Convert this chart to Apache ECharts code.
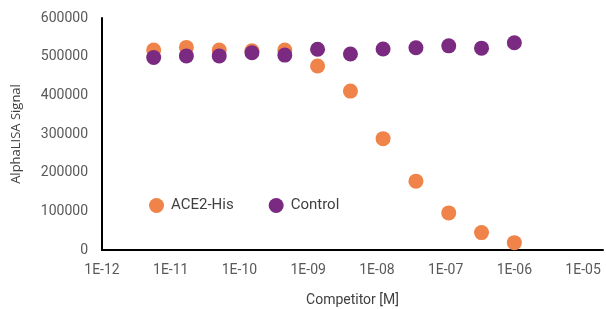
<!DOCTYPE html>
<html>
<head>
<meta charset="utf-8">
<script src="https://cdn.jsdelivr.net/npm/echarts@6/dist/echarts.min.js"></script>
<style>
  html, body { margin: 0; padding: 0; background: #fff; }
  #chart { width: 606px; height: 309px; }
</style>
</head>
<body>
<div id="chart"></div>
<script>
// competitor concentration (M), 3-fold dilution series
var concentrations = [5.65e-12, 1.69e-11, 5.08e-11, 1.52e-10, 4.57e-10, 1.37e-9, 4.12e-9, 1.23e-8, 3.70e-8, 1.11e-7, 3.33e-7, 1.0e-6];
var ace2His = [517000, 524000, 517000, 515000, 517000, 476000, 411000, 288000, 178000, 96000, 45000, 19000];
var control = [498000, 502000, 502000, 510000, 504000, 519000, 507000, 520000, 523000, 528000, 522000, 536000];
var seriesNames = ['ACE2-His', 'Control'];
var xTickExponents = [-12, -11, -10, -9, -8, -7, -6, -5];
var yTicks = [0, 100000, 200000, 300000, 400000, 500000, 600000];

function toPoints(values) {
    return concentrations.map(function (c, i) {
        return [Math.log10(c), values[i]];
    });
}

var chart = echarts.init(document.getElementById('chart'));
var option = {
    color: ['#EF8349', '#7A2A80'],
    animation: false,
    grid: {
        left: 102,
        right: 3,
        top: 18,
        bottom: 59,
        outerBoundsMode: 'none',
        containLabel: false
    },
    legend: {
        data: seriesNames,
        icon: 'circle',
        itemWidth: 15,
        itemHeight: 15,
        itemGap: 35,
        left: 144,
        top: 193,
        textStyle: {
            fontFamily: 'Roboto',
            fontSize: 15,
            color: '#404040',
            padding: [0, 0, 0, 2]
        }
    },
    xAxis: {
        type: 'value',
        name: 'Competitor [M]',
        nameLocation: 'middle',
        nameGap: 43,
        nameTextStyle: { fontFamily: 'Roboto', fontSize: 14, color: '#404040' },
        min: xTickExponents[0],
        max: -4.71,
        interval: 1,
        axisLine: { show: true, lineStyle: { color: '#000', width: 2 } },
        axisTick: { show: false },
        splitLine: { show: false },
        axisLabel: {
            fontFamily: 'Roboto',
            fontSize: 14,
            color: '#595959',
            margin: 13,
            showMaxLabel: false,
            formatter: function (v) {
                if (xTickExponents.indexOf(v) < 0) return '';
                var e = -v;
                return '1E-' + (e < 10 ? '0' + e : e);
            }
        }
    },
    yAxis: {
        type: 'value',
        name: 'AlphaLISA Signal',
        nameLocation: 'middle',
        nameGap: 79,
        nameTextStyle: { fontFamily: 'Open Sans', fontSize: 13, color: '#404040' },
        min: yTicks[0],
        max: yTicks[yTicks.length - 1],
        interval: 100000,
        axisLine: { show: true, lineStyle: { color: '#000', width: 2 } },
        axisTick: { show: false },
        splitLine: { show: false },
        axisLabel: {
            fontFamily: 'Roboto',
            fontSize: 14,
            color: '#595959',
            margin: 14,
            formatter: function (v) { return String(v); }
        }
    },
    series: [
        {
            name: seriesNames[0],
            type: 'scatter',
            symbolSize: 15,
            itemStyle: { opacity: 1 },
            data: toPoints(ace2His)
        },
        {
            name: seriesNames[1],
            type: 'scatter',
            symbolSize: 15,
            itemStyle: { opacity: 1 },
            data: toPoints(control)
        }
    ]
};
chart.setOption(option);
</script>
</body>
</html>
